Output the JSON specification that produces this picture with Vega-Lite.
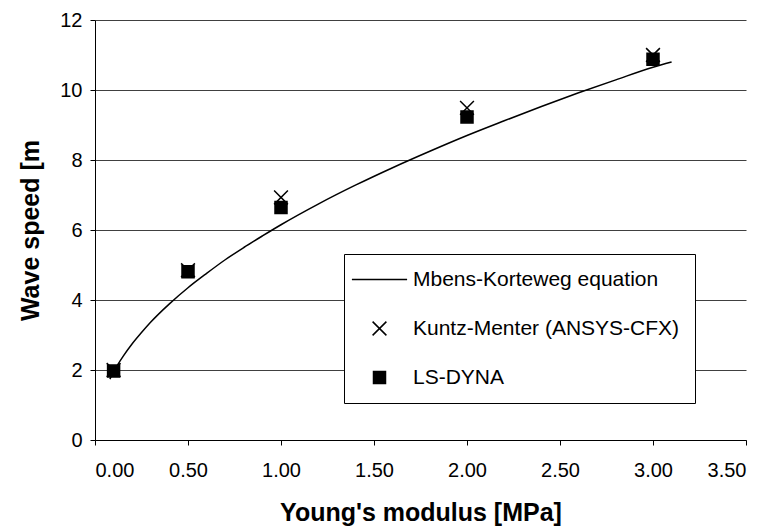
{
  "$schema": "https://vega.github.io/schema/vega-lite/v6.json",
  "width": 651,
  "height": 420,
  "autosize": {"type": "none"},
  "padding": {"left": 95, "top": 20, "right": 27, "bottom": 91},
  "background": "white",
  "config": {
    "view": {"stroke": null},
    "font": "Liberation Sans",
    "axis": {
      "labelFont": "Liberation Sans",
      "labelFontSize": 20,
      "labelColor": "black",
      "titleFont": "Liberation Sans",
      "titleFontSize": 25,
      "titleFontWeight": "bold",
      "titleColor": "black",
      "domainColor": "black",
      "tickColor": "black",
      "tickSize": 5,
      "domainWidth": 1,
      "tickWidth": 1
    }
  },
  "data": {
    "values": [
      {"series": "Mbens-Korteweg equation", "E": 0.08, "c": 1.74},
      {"series": "Mbens-Korteweg equation", "E": 0.1, "c": 1.95},
      {"series": "Mbens-Korteweg equation", "E": 0.15, "c": 2.38},
      {"series": "Mbens-Korteweg equation", "E": 0.2, "c": 2.75},
      {"series": "Mbens-Korteweg equation", "E": 0.25, "c": 3.07},
      {"series": "Mbens-Korteweg equation", "E": 0.3, "c": 3.37},
      {"series": "Mbens-Korteweg equation", "E": 0.4, "c": 3.89},
      {"series": "Mbens-Korteweg equation", "E": 0.5, "c": 4.35},
      {"series": "Mbens-Korteweg equation", "E": 0.6, "c": 4.76},
      {"series": "Mbens-Korteweg equation", "E": 0.7, "c": 5.15},
      {"series": "Mbens-Korteweg equation", "E": 0.8, "c": 5.5},
      {"series": "Mbens-Korteweg equation", "E": 0.9, "c": 5.83},
      {"series": "Mbens-Korteweg equation", "E": 1.0, "c": 6.15},
      {"series": "Mbens-Korteweg equation", "E": 1.2, "c": 6.74},
      {"series": "Mbens-Korteweg equation", "E": 1.4, "c": 7.28},
      {"series": "Mbens-Korteweg equation", "E": 1.6, "c": 7.78},
      {"series": "Mbens-Korteweg equation", "E": 1.8, "c": 8.25},
      {"series": "Mbens-Korteweg equation", "E": 2.0, "c": 8.7},
      {"series": "Mbens-Korteweg equation", "E": 2.2, "c": 9.12},
      {"series": "Mbens-Korteweg equation", "E": 2.4, "c": 9.53},
      {"series": "Mbens-Korteweg equation", "E": 2.6, "c": 9.92},
      {"series": "Mbens-Korteweg equation", "E": 2.8, "c": 10.29},
      {"series": "Mbens-Korteweg equation", "E": 3.0, "c": 10.65},
      {"series": "Mbens-Korteweg equation", "E": 3.1, "c": 10.8},
      {"series": "Kuntz-Menter (ANSYS-CFX)", "E": 0.1, "c": 2.0},
      {"series": "Kuntz-Menter (ANSYS-CFX)", "E": 0.5, "c": 4.85},
      {"series": "Kuntz-Menter (ANSYS-CFX)", "E": 1.0, "c": 6.93},
      {"series": "Kuntz-Menter (ANSYS-CFX)", "E": 2.0, "c": 9.49},
      {"series": "Kuntz-Menter (ANSYS-CFX)", "E": 3.0, "c": 11.0},
      {"series": "LS-DYNA", "E": 0.1, "c": 1.97},
      {"series": "LS-DYNA", "E": 0.5, "c": 4.81},
      {"series": "LS-DYNA", "E": 1.0, "c": 6.64},
      {"series": "LS-DYNA", "E": 2.0, "c": 9.23},
      {"series": "LS-DYNA", "E": 3.0, "c": 10.88}
    ]
  },
  "encoding": {
    "x": {
      "field": "E",
      "type": "quantitative",
      "scale": {"domain": [0, 3.5], "nice": false, "zero": false},
      "axis": {
        "title": "Young's modulus [MPa]",
        "values": [0, 0.5, 1, 1.5, 2, 2.5, 3, 3.5],
        "format": ".2f",
        "grid": false,
        "labelPadding": 15,
        "titleX": 325.5,
        "titleY": 80,
        "titleBaseline": "alphabetic",
        "titleAlign": "center"
      }
    },
    "y": {
      "field": "c",
      "type": "quantitative",
      "scale": {"domain": [0, 12], "nice": false},
      "axis": {
        "title": "Wave speed [m",
        "values": [0, 2, 4, 6, 8, 10, 12],
        "grid": true,
        "gridColor": "#404040",
        "gridWidth": 1,
        "gridOpacity": 1,
        "labelPadding": 8,
        "titleX": -57,
        "titleY": 210,
        "titleAngle": -90,
        "titleBaseline": "alphabetic",
        "titleAlign": "center"
      }
    }
  },
  "layer": [
    {
      "transform": [{"filter": "datum.series !== 'Mbens-Korteweg equation'"}],
      "mark": {"type": "point", "filled": true, "color": "black", "stroke": "black", "strokeWidth": 1.5, "opacity": 1, "size": 144},
      "encoding": {
        "shape": {
          "field": "series",
          "type": "nominal",
          "scale": {
            "domain": ["Mbens-Korteweg equation", "Kuntz-Menter (ANSYS-CFX)", "LS-DYNA"],
            "range": ["M-4.6,0L4.6,0", "M-1.15,-1.15L1.15,1.15M-1.15,1.15L1.15,-1.15", "square"]
          },
          "legend": {
            "title": null,
            "orient": "none",
            "legendX": 249,
            "legendY": 234,
            "padding": 15,
            "rowPadding": 27,
            "strokeColor": "black",
            "fillColor": "white",
            "symbolSize": 144,
            "symbolOffset": 10,
            "labelOffset": 23,
            "labelFont": "Liberation Sans",
            "labelFontSize": 21,
            "labelColor": "black",
            "labelLimit": 400
          }
        }
      }
    },
    {
      "transform": [{"filter": "datum.series === 'Mbens-Korteweg equation'"}],
      "mark": {"type": "line", "color": "black", "strokeWidth": 1.5, "interpolate": "monotone"},
      "encoding": {}
    }
  ]
}
